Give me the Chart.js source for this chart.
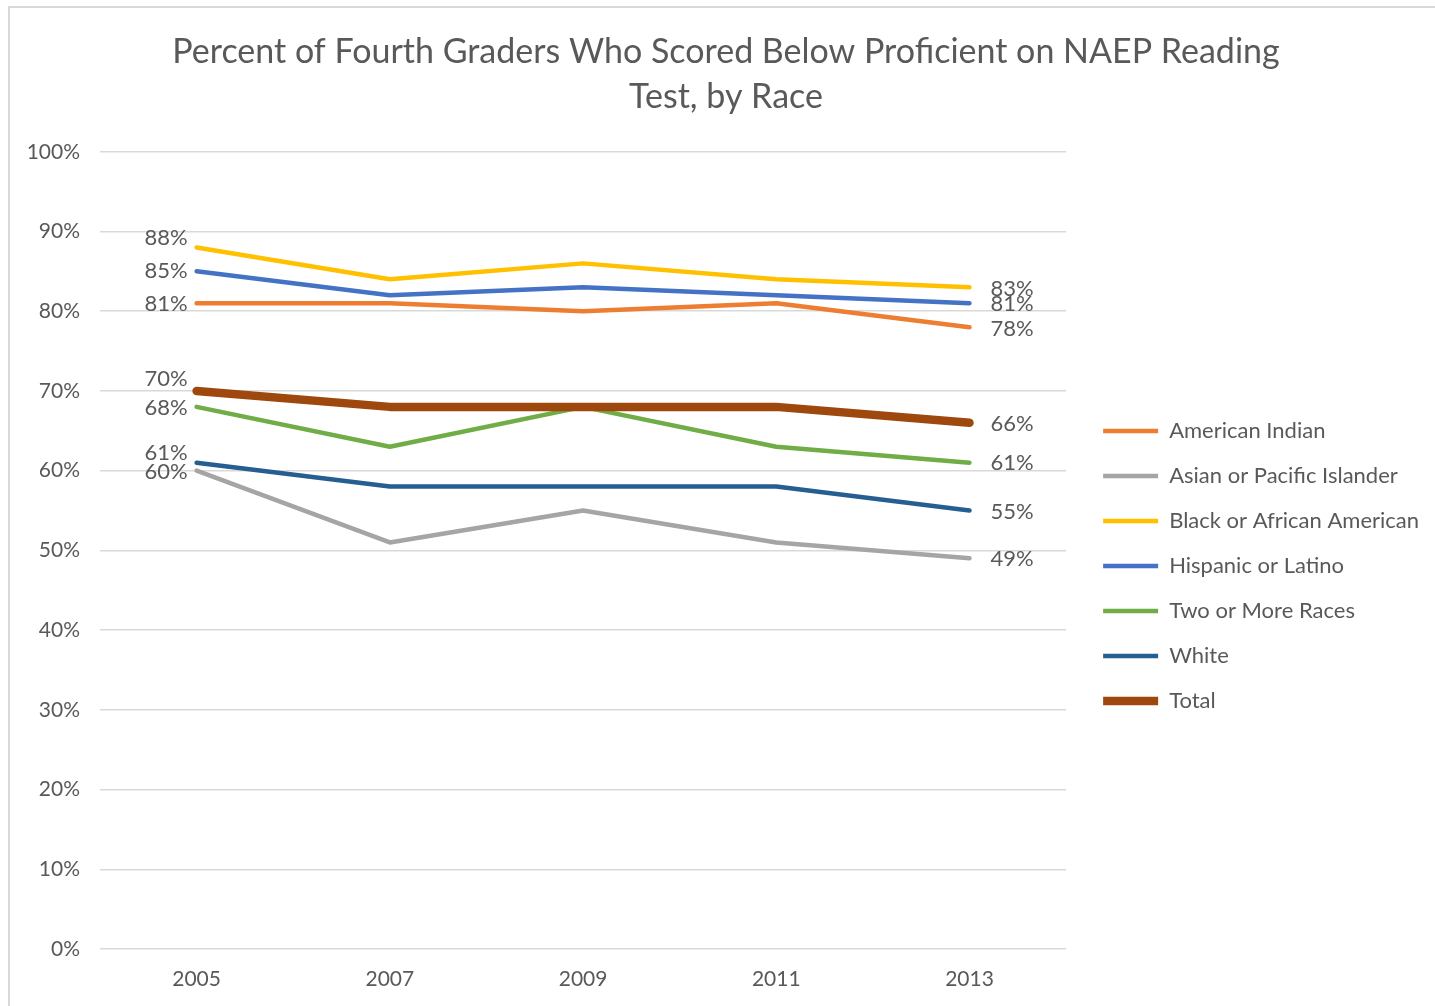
<!DOCTYPE html>
<html>
<head>
<meta charset="utf-8">
<script src="https://cdn.jsdelivr.net/npm/chart.js@4/dist/chart.umd.min.js"></script>
<style>
  html, body { margin: 0; padding: 0; background: #ffffff; overflow: hidden; }
  #frame { position: absolute; left: 8px; top: 6px; width: 1460px; height: 1040px; border: 2px solid #d9d9d9; box-sizing: border-box; }
  #wrap { position: absolute; left: 0; top: 0; width: 1435px; height: 1006px; }
</style>
</head>
<body>
<div id="frame"></div>
<div id="wrap"><canvas id="c" width="1435" height="1006"></canvas></div>
<script>
const years = ['2005', '2007', '2009', '2011', '2013'];
const seriesNames = ['American Indian', 'Asian or Pacific Islander', 'Black or African American', 'Hispanic or Latino', 'Two or More Races', 'White', 'Total'];
const americanIndian = [81, 81, 80, 81, 78];
const asianPacific = [60, 51, 55, 51, 49];
const blackAfrican = [88, 84, 86, 84, 83];
const hispanicLatino = [85, 82, 83, 82, 81];
const twoOrMore = [68, 63, 68, 63, 61];
const white = [61, 58, 58, 58, 55];
const total = [70, 68, 68, 68, 66];
const yTicks = [0, 10, 20, 30, 40, 50, 60, 70, 80, 90, 100];

const FONT = 'Lato, "Open Sans", sans-serif';
const TXT = '#595959';

const seriesData = [americanIndian, asianPacific, blackAfrican, hispanicLatino, twoOrMore, white, total];
const colors = ['#ED7D31', '#A5A5A5', '#FFC000', '#4472C4', '#70AD47', '#255E91', '#9E480E'];
const widths = [4.5, 4.5, 4.5, 4.5, 4.5, 4.5, 8.5];
// label nudges (first point dy, last point dy) in px
const firstDy = [1, 1, -10, 0, 1, -10, -12];
const lastDy = [2, 1, 2, 1, 0, 1, 1];

const datasets = seriesData.map((d, i) => ({
  label: seriesNames[i],
  data: d,
  borderColor: colors[i],
  backgroundColor: colors[i],
  borderWidth: widths[i],
  borderCapStyle: 'round',
  borderJoinStyle: 'round',
  pointRadius: 0,
  pointHoverRadius: 0,
  tension: 0,
  fill: false,
  order: seriesData.length - 1 - i,
  pointStyle: 'line'
}));

const endLabels = {
  id: 'endLabels',
  afterDatasetsDraw(chart) {
    const ctx = chart.ctx;
    ctx.save();
    ctx.font = '22px ' + FONT;
    ctx.fillStyle = TXT;
    ctx.textBaseline = 'middle';
    chart.data.datasets.forEach((ds, i) => {
      const meta = chart.getDatasetMeta(i);
      const pts = meta.data;
      const first = pts[0], last = pts[pts.length - 1];
      ctx.textAlign = 'right';
      ctx.fillText(ds.data[0] + '%', first.x - 9, first.y + firstDy[i]);
      ctx.textAlign = 'left';
      ctx.fillText(ds.data[ds.data.length - 1] + '%', last.x + 21, last.y + lastDy[i]);
    });
    ctx.restore();
  }
};

// widen the legend box so the plot ends earlier, then nudge legend content right
const legendTweak = {
  id: 'legendTweak',
  afterInit(chart) {
    const lg = chart.legend;
    if (lg && !lg._wrapped) {
      const origFit = lg.fit.bind(lg);
      lg.fit = function () { origFit(); this.width += 20; };
      lg._wrapped = true;
    }
  },
  afterLayout(chart) {
    if (chart.legend) {
      chart.legend.left += 14;
      chart.legend.right += 14;
    }
  }
};

new Chart(document.getElementById('c'), {
  type: 'line',
  data: { labels: years, datasets },
  plugins: [endLabels, legendTweak],
  options: {
    responsive: false,
    animation: false,
    events: [],
    layout: { padding: { left: 17, right: 0, top: 7, bottom: 15 } },
    plugins: {
      tooltip: { enabled: false },
      title: {
        display: true,
        text: ['Percent of Fourth Graders Who Scored Below Proficient on NAEP Reading', 'Test, by Race'],
        color: TXT,
        font: { family: FONT, size: 34, weight: 'normal', lineHeight: 1.32 },
        padding: { top: 22.5, bottom: 32.5 }
      },
      legend: {
        display: true,
        position: 'right',
        fullSize: false,
        align: 'center',
        title: { display: true, text: '', font: { size: 11 }, padding: 9 },
        labels: {
          usePointStyle: true,
          pointStyleWidth: 55,
          boxHeight: 20,
          padding: 23,
          color: TXT,
          font: { family: FONT, size: 22 },
          sort: (a, b) => a.datasetIndex - b.datasetIndex
        }
      }
    },
    scales: {
      x: {
        type: 'category',
        offset: true,
        afterFit(scale) { scale.height = 42; },
        grid: { display: false, drawTicks: false },
        border: { display: false },
        ticks: { color: TXT, font: { family: FONT, size: 21 }, padding: 18, maxRotation: 0 }
      },
      y: {
        min: 0, max: 100,
        afterFit(scale) { scale.width = 83; },
        afterBuildTicks(scale) { scale.ticks = yTicks.map(v => ({ value: v })); },
        grid: { color: '#d9d9d9', lineWidth: 1.5, drawTicks: false },
        border: { display: false },
        ticks: { color: TXT, font: { family: FONT, size: 21 }, padding: 20, callback: v => v + '%' }
      }
    }
  }
});
</script>
</body>
</html>
